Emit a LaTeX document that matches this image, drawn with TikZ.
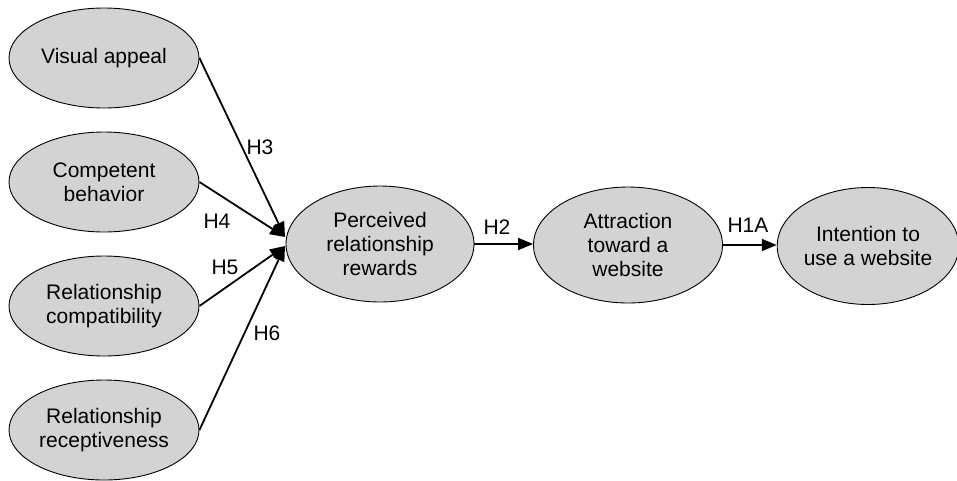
\documentclass[tikz,border=0pt]{standalone}
\usepackage{fontspec}
\setmainfont{Liberation Sans}
\usetikzlibrary{shapes.geometric,arrows.meta}
\definecolor{construct}{RGB}{211,211,211}
\begin{document}
\begin{tikzpicture}[x=1pt,y=-1pt,
  construct/.style={ellipse,draw=black,line width=0.9pt,fill=construct,
    inner sep=0pt,align=center,font=\fontsize{21}{24}\selectfont},
  path/.style={line width=1.8pt,-{Triangle[length=15pt,width=12pt]}},
  hyp/.style={font=\fontsize{21}{24}\selectfont,inner sep=0pt}]
\useasboundingbox (0,0) rectangle (957,480);

% exogenous constructs
\node[construct,minimum width=190pt,minimum height=100pt] (va) at (104,58) {Visual appeal};
\node[construct,minimum width=190pt,minimum height=100pt] (cb) at (104,182) {Competent\\behavior};
\node[construct,minimum width=190pt,minimum height=100pt] (rc) at (104,306) {Relationship\\compatibility};
\node[construct,minimum width=190pt,minimum height=100pt] (rr) at (104,430) {Relationship\\receptiveness};

% mediators and outcome
\node[construct,minimum width=188pt,minimum height=116pt] (prr) at (380,244) {Perceived\\relationship\\rewards};
\node[construct,minimum width=189pt,minimum height=116pt] (atw) at (628,245) {Attraction\\toward a\\website};
\node[construct,minimum width=174pt,minimum height=117pt] (itu) at (868,246) {Intention to\\use a website};

% arrow ends on the left of the rewards construct
\coordinate (inA) at (285,237);
\coordinate (inB) at (285,246);

\draw[path] (va.east) -- (inA);
\draw[path] (cb.east) -- (inA);
\draw[path] (rc.east) -- (inB);
\draw[path] (rr.east) -- (inB);
\draw[path] (prr.east) -- (prr.east -| atw.west);
\draw[path] (atw.east) -- (atw.east -| itu.west);

% hypothesis labels
\node[hyp] (h3) at (260,147) {H3};
\node[hyp] (h4) at (217,221) {H4};
\node[hyp] (h5) at (225,267) {H5};
\node[hyp] (h6) at (267,333) {H6};
\node[hyp] (h2) at (497,227) {H2};
\node[hyp] (h1a) at (748,225) {H1A};
\end{tikzpicture}
\end{document}
